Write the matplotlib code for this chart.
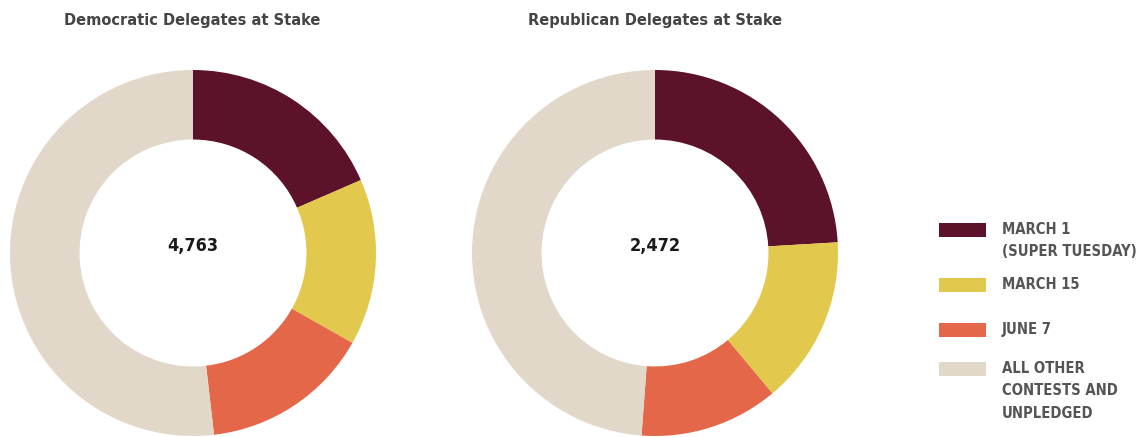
import matplotlib
matplotlib.use("Agg")
import matplotlib.pyplot as plt
from matplotlib import font_manager as fm
from matplotlib.patches import Rectangle

# delegates at stake, by contest date
categories = ["MARCH 1\n(SUPER TUESDAY)", "MARCH 15", "JUNE 7",
              "ALL OTHER\nCONTESTS AND\nUNPLEDGED"]
dem_values = [880, 700, 714, 2469]
rep_values = [595, 367, 303, 1207]
dem_total = "4,763"
rep_total = "2,472"
titles = ["Democratic Delegates at Stake", "Republican Delegates at Stake"]
colors = ["#5c1229", "#e2c84c", "#e4674a", "#e2d8ca"]

# look for a bold condensed face, else plain Liberation Sans bold
cond = [f.fname for f in fm.fontManager.ttflist
        if ("Condensed" in f.fname or "Narrow" in f.fname)
        and "Bold" in f.fname and "Italic" not in f.fname
        and "Oblique" not in f.fname]
if cond:
    cond.sort(key=lambda p: ("Liberation" not in p, "DejaVu" not in p, p))
    bold = dict(fontproperties=fm.FontProperties(fname=cond[0]))
    narrow = True
else:
    bold = dict(family=["Liberation Sans", "DejaVu Sans"], fontweight="bold")
    narrow = False

W, H = 1142, 437
fig = plt.figure(figsize=(W / 100, H / 100), dpi=100)


def px_axes(cx, cy, r):
    # axes box in figure fraction from a pixel center and radius
    return [(cx - r) / W, (H - cy - r) / H, 2 * r / W, 2 * r / H]


def donut(rect, values, total):
    ax = fig.add_axes(rect)
    ax.pie(values, colors=colors, startangle=90, counterclock=False,
           radius=1.0, wedgeprops=dict(width=0.38, linewidth=0))
    ax.set_xlim(-1, 1)
    ax.set_ylim(-1, 1)
    ax.set_aspect("auto")
    ax.axis("off")
    t = ax.text(0, 0.04, total, ha="center", va="center",
                color="#1a1a1a", **bold)
    t.set_fontsize(13 if narrow else 12)
    return ax


donut(px_axes(193, 253, 183), dem_values, dem_total)
donut(px_axes(655, 253, 183), rep_values, rep_total)

# overlay in pixel coordinates for titles and legend
ov = fig.add_axes([0, 0, 1, 1])
ov.set_xlim(0, W)
ov.set_ylim(H, 0)
ov.axis("off")
ov.patch.set_alpha(0)

for x, t in zip([192, 655], titles):
    tx = ov.text(x, 20, t, ha="center", va="center", color="#444444", **bold)
    tx.set_fontsize(11.7 if narrow else 10.5)

sw_y = [223, 278, 323, 362]
for y, c, lab in zip(sw_y, colors, categories):
    ov.add_patch(Rectangle((939, y), 47, 14, color=c, lw=0))
    tx = ov.text(1002, y - 1, lab, ha="left", va="top", color="#555555",
                 linespacing=1.62, **bold)
    tx.set_fontsize(10.6 if narrow else 9.5)

fig.savefig("out.png", dpi=100)
